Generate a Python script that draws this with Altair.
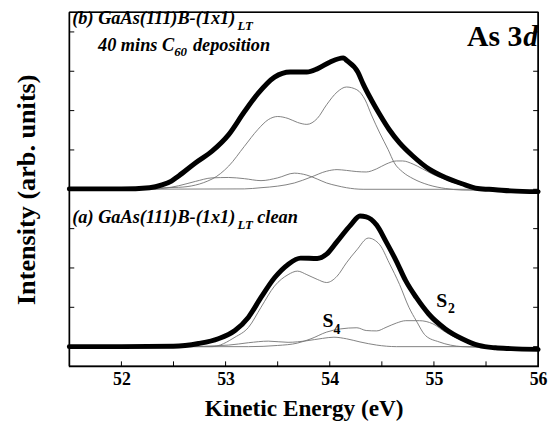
import altair as alt
import pandas as pd

# ---------------- values ----------------
# Spectrum (b): GaAs(111)B-(1x1)LT after 40 mins C60 deposition (intensity above its own baseline)
b_data_E = [51.5, 52.0, 52.27, 52.39, 52.48, 52.55, 52.71, 52.87, 53.03, 53.18, 53.31, 53.47, 53.62, 53.78,
            53.88, 54.0, 54.13, 54.16, 54.27, 54.32, 54.4, 54.48, 54.57, 54.67, 54.8, 54.95, 55.11, 55.27,
            55.42, 55.59, 55.74, 56.0]
b_data_I = [0.01, 0.01, 0.04, 0.11, 0.21, 0.34, 0.67, 0.97, 1.39, 1.97, 2.43, 2.85, 2.98, 2.98,
            3.06, 3.23, 3.34, 3.28, 2.98, 2.68, 2.27, 1.90, 1.52, 1.18, 0.84, 0.52, 0.30, 0.14,
            0.02, -0.01, -0.04, -0.06]
b_bulk_E = [51.5, 52.55, 52.87, 53.03, 53.18, 53.31, 53.41, 53.5, 53.6, 53.69, 53.78, 53.88, 53.97, 54.07,
            54.16, 54.26, 54.34, 54.4, 54.48, 54.56, 54.62, 54.7, 54.8, 54.95, 55.11, 55.27, 55.74, 56.0]
b_bulk_I = [0.0, 0.05, 0.26, 0.59, 1.09, 1.52, 1.77, 1.85, 1.80, 1.70, 1.65, 1.80, 2.15, 2.47,
            2.60, 2.53, 2.27, 1.89, 1.43, 1.01, 0.67, 0.44, 0.27, 0.11, 0.02, -0.02, -0.04, -0.06]
b_c3_E = [51.5, 52.27, 52.55, 52.71, 52.87, 53.03, 53.18, 53.34, 53.5, 53.66, 53.78, 53.88, 53.97, 54.07,
          54.16, 54.32, 55.42, 55.74, 56.0]
b_c3_I = [0.0, 0.0, 0.09, 0.20, 0.29, 0.30, 0.27, 0.22, 0.29, 0.41, 0.36, 0.26, 0.16, 0.09,
          0.04, 0.0, 0.0, -0.04, -0.06]
b_s2_E = [51.5, 53.18, 53.34, 53.5, 53.66, 53.82, 53.97, 54.07, 54.16, 54.26, 54.35, 54.45, 54.54, 54.64,
          54.7, 54.8, 54.89, 54.99, 55.11, 55.27, 55.42, 55.74, 56.0]
b_s2_I = [0.0, 0.01, 0.04, 0.08, 0.16, 0.31, 0.46, 0.50, 0.48, 0.45, 0.44, 0.52, 0.64, 0.72,
          0.72, 0.64, 0.52, 0.38, 0.25, 0.10, 0.01, -0.04, -0.06]

# Spectrum (a): clean GaAs(111)B-(1x1)LT
a_data_E = [51.5, 52.0, 52.5, 52.74, 52.93, 53.09, 53.22, 53.34, 53.47, 53.6, 53.72, 53.88, 53.97, 54.07,
            54.2, 54.29, 54.35, 54.45, 54.54, 54.64, 54.73, 54.83, 54.95, 55.11, 55.27, 55.43, 55.59,
            55.74, 56.0]
a_data_I = [0.0, 0.0, 0.01, 0.08, 0.2, 0.41, 0.75, 1.25, 1.75, 2.09, 2.25, 2.24, 2.35, 2.67,
            3.09, 3.32, 3.30, 3.09, 2.67, 2.17, 1.67, 1.25, 0.83, 0.45, 0.2, 0.03, -0.03,
            -0.05, -0.07]
a_bulk_E = [51.5, 52.87, 53.09, 53.22, 53.34, 53.47, 53.6, 53.69, 53.78, 53.88, 53.97, 54.07, 54.16, 54.26,
            54.37, 54.48, 54.57, 54.67, 54.76, 54.83, 54.92, 55.05, 55.27, 55.59, 55.74, 56.0]
a_bulk_I = [0.0, 0.0, 0.24, 0.49, 1.0, 1.54, 1.83, 1.92, 1.83, 1.71, 1.63, 1.79, 2.13, 2.46,
            2.76, 2.59, 2.13, 1.58, 1.0, 0.66, 0.28, 0.12, 0.0, -0.03, -0.05, -0.07]
a_s2_E = [51.5, 53.22, 53.5, 53.69, 53.82, 53.97, 54.1, 54.26, 54.35, 54.45, 54.54, 54.64, 54.73, 54.86,
          54.99, 55.11, 55.27, 55.43, 55.59, 55.74, 56.0]
a_s2_I = [0.0, 0.0, 0.03, 0.09, 0.2, 0.37, 0.45, 0.48, 0.41, 0.40, 0.49, 0.60, 0.66, 0.66,
          0.58, 0.37, 0.16, 0.02, -0.03, -0.05, -0.07]
a_s4_E = [51.5, 52.55, 53.03, 53.22, 53.41, 53.6, 53.78, 53.93, 54.04, 54.16, 54.29, 54.45, 54.64, 55.43,
          55.59, 55.74, 56.0]
a_s4_I = [0.0, 0.0, 0.04, 0.10, 0.14, 0.11, 0.15, 0.21, 0.24, 0.20, 0.12, 0.04, 0.0, 0.0,
          -0.03, -0.05, -0.07]

offset_a = 0.0
offset_b = 4.0

x_range = [51.5, 56.0]
y_range = [-0.5, 8.5]
x_labels = [52, 53, 54, 55, 56]
x_ticks = [52.0, 52.5, 53.0, 53.5, 54.0, 54.5, 55.0, 55.5]
y_ticks = [0, 1, 2, 3, 4, 5, 6, 7, 8]

# ---------------- tables ----------------
def table(E, I, name, offset):
    return pd.DataFrame({"E": E, "y": [v + offset for v in I], "series": name})

df_data = pd.concat([table(a_data_E, a_data_I, "a-data", offset_a),
                     table(b_data_E, b_data_I, "b-data", offset_b)])
df_fit = pd.concat([table(a_bulk_E, a_bulk_I, "a-bulk", offset_a),
                    table(a_s2_E, a_s2_I, "a-s2", offset_a),
                    table(a_s4_E, a_s4_I, "a-s4", offset_a),
                    table(b_bulk_E, b_bulk_I, "b-bulk", offset_b),
                    table(b_c3_E, b_c3_I, "b-c3", offset_b),
                    table(b_s2_E, b_s2_I, "b-s2", offset_b)])
df_xticks = pd.DataFrame({"E": x_ticks})
df_yticks = pd.DataFrame({"y": y_ticks})
# the four sides of the plot frame, at the ends of the axis ranges
df_frame = pd.DataFrame({
    "E": [x_range[0], x_range[1], x_range[1], x_range[1], x_range[0], x_range[1], x_range[0], x_range[0]],
    "y": [y_range[1], y_range[1], y_range[0], y_range[1], y_range[0], y_range[0], y_range[0], y_range[1]],
    "side": ["top", "top", "right", "right", "bottom", "bottom", "left", "left"],
})

FONT = "Liberation Serif"
W, H = 474, 358
xscale = alt.Scale(domain=x_range, nice=False, zero=False)
yscale = alt.Scale(domain=y_range, nice=False, zero=False)

x_axis = alt.Axis(values=x_labels, format="d", ticks=False, domain=False, grid=False,
                  labelFlush=False, labelOverlap=False,
                  labelFont=FONT, labelFontSize=18, labelFontWeight="bold", labelColor="black",
                  labelPadding=4, title="Kinetic Energy (eV)", titleFont=FONT, titleFontSize=23.5,
                  titleFontWeight="bold", titleColor="black", titlePadding=9)
y_axis = alt.Axis(ticks=False, labels=False, domain=False, grid=False,
                  title="Intensity (arb. units)", titleFont=FONT, titleFontSize=26.5,
                  titleFontWeight="bold", titleColor="black", titlePadding=29)

X = alt.X("E:Q", scale=xscale, axis=x_axis)
Y = alt.Y("y:Q", scale=yscale, axis=y_axis)

frame = alt.Chart(df_frame).mark_line(color="black", strokeWidth=1.5, clip=False).encode(
    x=X, y=Y, detail="side:N")

fits = alt.Chart(df_fit).mark_line(color="#737373", strokeWidth=0.9, interpolate="monotone").encode(
    x=X, y=Y, detail="series:N")
data = alt.Chart(df_data).mark_line(color="black", strokeWidth=5, interpolate="monotone",
                                    strokeCap="round", strokeJoin="round").encode(
    x=X, y=Y, detail="series:N")

# inward ticks on the frame
bottom_ticks = alt.Chart(df_xticks).mark_rule(color="black", strokeWidth=1).encode(
    x=X, y=alt.value(H - 5), y2=alt.value(H))
left_ticks = alt.Chart(df_yticks).mark_rule(color="black", strokeWidth=1).encode(
    y=Y, x=alt.value(0), x2=alt.value(5))
right_ticks = alt.Chart(df_yticks).mark_rule(color="black", strokeWidth=1).encode(
    y=Y, x=alt.value(W - 5), x2=alt.value(W))

def label(text, x, y, size, italic=True, align="left"):
    return alt.Chart(pd.DataFrame({"t": [text]})).mark_text(
        align=align, baseline="alphabetic", font=FONT, fontSize=size, fontWeight="bold",
        fontStyle="italic" if italic else "normal", color="black"
    ).encode(x=alt.value(x), y=alt.value(y), text="t:N")

texts = [
    label("(b) GaAs(111)B-(1x1)", 3, 12, 18.5),
    label("LT", 170, 18, 13),
    label("40 mins C", 29, 39, 18.5),
    label("60", 106, 44, 13),
    label("deposition", 125, 39, 18.5),
    label("(a) GaAs(111)B-(1x1)", 3, 213, 18.5),
    label("LT", 170, 219, 13),
    label("clean", 190, 213, 18.5),
    label("As 3", 458, 34, 30, italic=False, align="right"),
    label("d", 459, 34, 30),
    label("S", 256, 318, 20, italic=False),
    label("4", 267, 325, 14, italic=False),
    label("S", 371, 298, 20, italic=False),
    label("2", 383, 304, 14, italic=False),
]

chart = alt.layer(frame, fits, data, bottom_ticks, left_ticks, right_ticks, *texts).properties(
    width=W, height=H,
    padding={"left": 62, "top": 2, "right": 10, "bottom": 54},
    autosize=alt.AutoSizeParams(type="none"),
    background="white",
).configure_view(stroke="black", strokeWidth=1.3)

chart.save("out.html", embed_options={"renderer": "svg", "actions": False})
